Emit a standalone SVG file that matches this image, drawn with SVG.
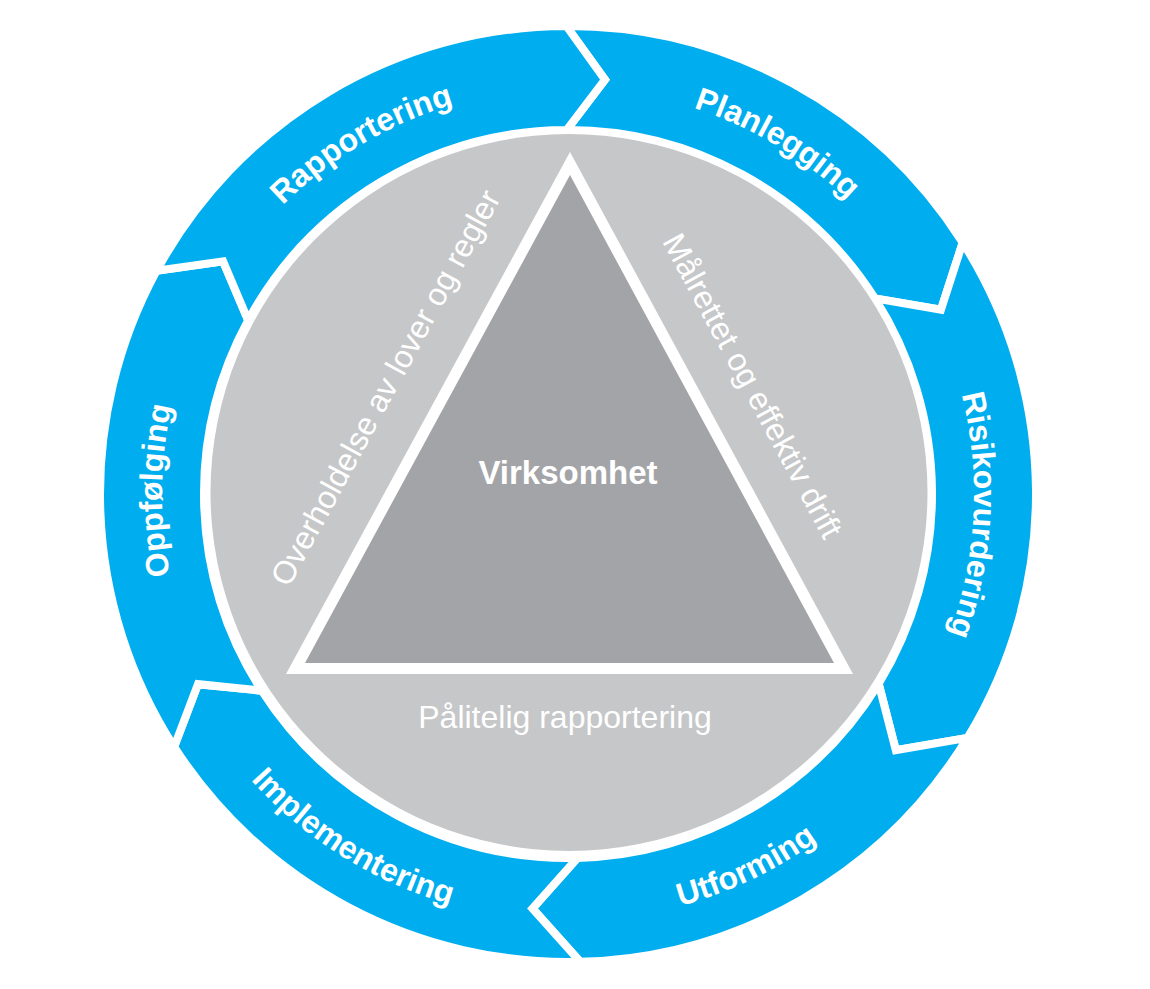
<svg xmlns="http://www.w3.org/2000/svg" width="1150" height="989" viewBox="0 0 1150 989">
<style>
.seg{fill:#00AEEF;stroke:#FFFFFF;stroke-width:8;stroke-linejoin:miter}
.lbl{font-family:"Liberation Sans",Arial,sans-serif;font-weight:bold;font-size:32px;fill:#FFFFFF}
.side{font-family:"Liberation Sans",Arial,sans-serif;font-size:32px;fill:#FFFFFF}
</style>
<defs>
<path id="pRap" d="M 168.8,568 A 406 406 0 0 1 826.2,180.7"/>
<path id="pPlan" d="M 311.4,179.4 A 406 406 0 0 1 966.8,570.1"/>
<path id="pRisk" d="M 726.6,120.3 A 406 406 0 0 1 686.7,882.3"/>
<path id="pOpp" d="M 425.8,874.3 A 406 406 0 0 1 432.5,111.3"/>
<path id="pUtf" d="M 268.7,798.6 A 427 427 0 0 0 993,453.1"/>
<path id="pImp" d="M 150.3,405.2 A 427 427 0 0 0 830.9,830.5"/>
</defs>
<rect width="1150" height="989" fill="#FFFFFF"/>
<g id="ring">
<g id="planlegging">
<path class="seg" d="M 566.37,26 A 468 468 0 0 1 962.71,242.54 L 940.94,309.68 L 874.99,298.42 A 364 364 0 0 0 566.73,130 L 604.98,79.65 Z"/>
<text class="lbl" text-anchor="middle"><textPath href="#pPlan" startOffset="50%">Planlegging</textPath></text>
</g>
<g id="risikovurdering">
<path class="seg" d="M 962.71,242.54 A 468 468 0 0 1 967.46,737.83 L 895.81,750.11 L 878.69,683.65 A 364 364 0 0 0 874.99,298.42 L 940.94,309.68 Z"/>
<text class="lbl" text-anchor="middle"><textPath href="#pRisk" startOffset="50%">Risikovurdering</textPath></text>
</g>
<g id="utforming">
<path class="seg" d="M 967.46,737.83 A 468 468 0 0 1 580.25,961.84 L 532.47,908.48 L 577.53,857.88 A 364 364 0 0 0 878.69,683.65 L 895.81,750.11 Z"/>
<text class="lbl" text-anchor="middle"><textPath href="#pUtf" startOffset="50%">Utforming</textPath></text>
</g>
<g id="implementering">
<path class="seg" d="M 580.25,961.84 A 468 468 0 0 1 174.17,746.83 L 198,684.15 L 261.69,690.65 A 364 364 0 0 0 577.53,857.88 L 532.47,908.48 Z"/>
<text class="lbl" text-anchor="middle"><textPath href="#pImp" startOffset="50%">Implementering</textPath></text>
</g>
<g id="oppfolging">
<path class="seg" d="M 174.17,746.83 A 468 468 0 0 1 156.71,270.69 L 223.12,261.38 L 248.11,320.31 A 364 364 0 0 0 261.69,690.65 L 198,684.15 Z"/>
<text class="lbl" text-anchor="middle"><textPath href="#pOpp" startOffset="50%">Oppfølging</textPath></text>
</g>
<g id="rapportering">
<path class="seg" d="M 156.71,270.69 A 468 468 0 0 1 566.37,26 L 604.98,79.65 L 566.73,130 A 364 364 0 0 0 248.11,320.31 L 223.12,261.38 Z"/>
<text class="lbl" text-anchor="middle"><textPath href="#pRap" startOffset="50%">Rapportering</textPath></text>
</g>
</g>
<g id="core">
<circle cx="569" cy="492.5" r="358.5" fill="#C6C7C9"/>
<polygon points="570,152 286,674 853,674" fill="#FFFFFF"/>
<polygon points="570,175 305,663 834,663" fill="#A3A4A8"/>
</g>
<g id="virksomhet">
<text x="568" y="484" text-anchor="middle" font-family="'Liberation Sans',Arial,sans-serif" font-weight="bold" font-size="33" fill="#FFFFFF">Virksomhet</text>
</g>
<g id="overholdelse">
<text class="side" text-anchor="middle" transform="translate(395,393) rotate(-61.45)">Overholdelse av lover og regler</text>
</g>
<g id="malrettet">
<text class="side" text-anchor="middle" transform="translate(743,391) rotate(61.5)">Målrettet og effektiv drift</text>
</g>
<g id="palitelig">
<text class="side" x="565" y="728" text-anchor="middle">Pålitelig rapportering</text>
</g>
<g id="connectors"/>
</svg>
